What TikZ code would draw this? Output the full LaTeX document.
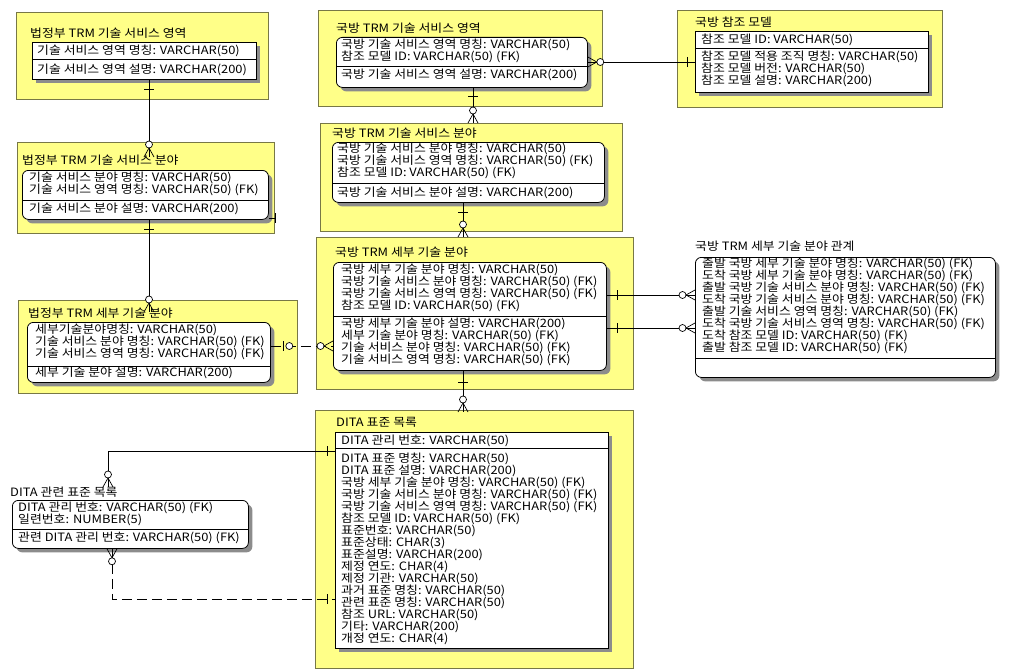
\documentclass[tikz,border=0pt]{standalone}
\usepackage{fontspec}
\setmainfont{Noto Sans CJK KR}[FakeStretch=1.12]
\usetikzlibrary{shadows}
\definecolor{ermyellow}{RGB}{255,255,136}
\definecolor{zoneline}{RGB}{120,120,70}
\tikzstyle{zone} = [draw=zoneline, line width=0.8pt, fill=ermyellow, anchor=north west, inner sep=0pt]
\tikzstyle{entbox} = [draw=black, line width=0.8pt, fill=white, anchor=north west, inner sep=0pt, drop shadow={shadow xshift=4pt, shadow yshift=-4pt, opacity=1, fill=black!45}]
\tikzstyle{depbox} = [entbox, rounded corners=6pt]
\tikzstyle{etitle} = [anchor=west, inner sep=0pt, font=\fontsize{11.5}{12}\selectfont]
\tikzstyle{cols} = [anchor=north west, inner sep=0pt, align=left, font=\fontsize{11.5}{12}\selectfont]
\tikzstyle{divline} = [line width=0.8pt]
\tikzstyle{rel} = [line width=0.7pt]
\tikzstyle{reldash} = [rel, dash pattern=on 10pt off 5pt]
\tikzset{
  bar/.pic={\draw[rel] (0,-5) -- (0,5);},
  many/.pic={\draw[rel] (0,-5) -- (9,0) -- (0,5); \draw[rel, fill=white] (12.5,0) circle (3.5pt);},
  zeroone/.pic={\draw[rel] (13,-5) -- (13,5); \draw[rel, fill=white] (18.5,0) circle (3.5pt);}
}

\begin{document}
\begin{tikzpicture}[x=1pt, y=-1pt]
\useasboundingbox (0,0) rectangle (1024,669);

% yellow subject areas
\node[zone, minimum width=252, minimum height=87] (azone) at (16,12) {};
\node[zone, minimum width=257, minimum height=91] (bzone) at (17,142) {};
\node[zone, minimum width=279, minimum height=93] (czone) at (18,300) {};
\node[zone, minimum width=284, minimum height=96] (dzone) at (318,10) {};
\node[zone, minimum width=265, minimum height=97] (ezone) at (677,10) {};
\node[zone, minimum width=302, minimum height=108] (fzone) at (320,123) {};
\node[zone, minimum width=317, minimum height=152] (gzone) at (316,237) {};
\node[zone, minimum width=318, minimum height=258] (hzone) at (315,410) {};

% entity titles
\node[etitle] (atitle) at (30,33) {법정부 TRM 기술 서비스 영역};
\node[etitle] (btitle) at (22,160) {법정부 TRM 기술 서비스 분야};
\node[etitle] (ctitle) at (28,313) {법정부 TRM 세부 기술 분야};
\node[etitle] (dtitle) at (336,28) {국방 TRM 기술 서비스 영역};
\node[etitle] (etitle) at (695,22) {국방 참조 모델};
\node[etitle] (ftitle) at (332,133) {국방 TRM 기술 서비스 분야};
\node[etitle] (gtitle) at (335,252) {국방 TRM 세부 기술 분야};
\node[etitle] (ititle) at (695,246) {국방 TRM 세부 기술 분야 관계};
\node[etitle] (htitle) at (336,422) {DITA 표준 목록};
\node[etitle] (jtitle) at (10,492) {DITA 관련 표준 목록};

% entity boxes
\node[entbox, minimum width=224, minimum height=37] (abox) at (32,42) {};
\node[depbox, minimum width=246, minimum height=49] (bbox) at (22,170) {};
\node[depbox, minimum width=243, minimum height=60] (cbox) at (27,322) {};
\node[depbox, minimum width=251, minimum height=50] (dbox) at (336,37) {};
\node[entbox, minimum width=233, minimum height=61] (ebox) at (695,31) {};
\node[depbox, minimum width=272, minimum height=60] (fbox) at (332,142) {};
\node[depbox, minimum width=273, minimum height=108] (gbox) at (333,262) {};
\node[depbox, minimum width=300, minimum height=120] (ibox) at (695,257) {};
\node[entbox, minimum width=273, minimum height=216] (hbox) at (335,432) {};
\node[depbox, minimum width=236, minimum height=48] (jbox) at (12,500) {};

% key / non-key dividers
\draw[divline] (abox.west |- 0,59) -- (abox.east |- 0,59);
\draw[divline] (bbox.west |- 0,200) -- (bbox.east |- 0,200);
\draw[divline] (cbox.west |- 0,366) -- (cbox.east |- 0,366);
\draw[divline] (dbox.west |- 0,66) -- (dbox.east |- 0,66);
\draw[divline] (ebox.west |- 0,48) -- (ebox.east |- 0,48);
\draw[divline] (fbox.west |- 0,183) -- (fbox.east |- 0,183);
\draw[divline] (gbox.west |- 0,316) -- (gbox.east |- 0,316);
\draw[divline] (ibox.west |- 0,358) -- (ibox.east |- 0,358);
\draw[divline] (hbox.west |- 0,448) -- (hbox.east |- 0,448);
\draw[divline] (jbox.west |- 0,529) -- (jbox.east |- 0,529);

% attributes
\node[cols] (akeys) at (37,45) {기술 서비스 영역 명칭: VARCHAR(50)};
\node[cols] (anon) at (37,64) {기술 서비스 영역 설명: VARCHAR(200)};
\node[cols] (bkeys) at (29,172) {기술 서비스 분야 명칭: VARCHAR(50)\\기술 서비스 영역 명칭: VARCHAR(50) (FK)};
\node[cols] (bnon) at (29,203) {기술 서비스 분야 설명: VARCHAR(200)};
\node[cols] (ckeys) at (35,324) {세부기술분야명칭: VARCHAR(50)\\기술 서비스 분야 명칭: VARCHAR(50) (FK)\\기술 서비스 영역 명칭: VARCHAR(50) (FK)};
\node[cols] (cnon) at (35,367) {세부 기술 분야 설명: VARCHAR(200)};
\node[cols] (dkeys) at (341,39) {국방 기술 서비스 영역 명칭: VARCHAR(50)\\참조 모델 ID: VARCHAR(50) (FK)};
\node[cols] (dnon) at (341,69) {국방 기술 서비스 영역 설명: VARCHAR(200)};
\node[cols] (ekeys) at (701,34) {참조 모델 ID: VARCHAR(50)};
\node[cols] (enon) at (701,51) {참조 모델 적용 조직 명칭: VARCHAR(50)\\참조 모델 버전: VARCHAR(50)\\참조 모델 설명: VARCHAR(200)};
\node[cols] (fkeys) at (337,143) {국방 기술 서비스 분야 명칭: VARCHAR(50)\\국방 기술 서비스 영역 명칭: VARCHAR(50) (FK)\\참조 모델 ID: VARCHAR(50) (FK)};
\node[cols] (fnon) at (337,187) {국방 기술 서비스 분야 설명: VARCHAR(200)};
\node[cols] (gkeys) at (341,264) {국방 세부 기술 분야 명칭: VARCHAR(50)\\국방 기술 서비스 분야 명칭: VARCHAR(50) (FK)\\국방 기술 서비스 영역 명칭: VARCHAR(50) (FK)\\참조 모델 ID: VARCHAR(50) (FK)};
\node[cols] (gnon) at (341,318) {국방 세부 기술 분야 설명: VARCHAR(200)\\세부 기술 분야 명칭: VARCHAR(50) (FK)\\기술 서비스 분야 명칭: VARCHAR(50) (FK)\\기술 서비스 영역 명칭: VARCHAR(50) (FK)};
\node[cols] (ikeys) at (702,258) {출발 국방 세부 기술 분야 명칭: VARCHAR(50) (FK)\\도착 국방 세부 기술 분야 명칭: VARCHAR(50) (FK)\\출발 국방 기술 서비스 분야 명칭: VARCHAR(50) (FK)\\도착 국방 기술 서비스 분야 명칭: VARCHAR(50) (FK)\\출발 기술 서비스 영역 명칭: VARCHAR(50) (FK)\\도착 국방 기술 서비스 영역 명칭: VARCHAR(50) (FK)\\도착 참조 모델 ID: VARCHAR(50) (FK)\\출발 참조 모델 ID: VARCHAR(50) (FK)};
\node[cols] (hkeys) at (341,435) {DITA 관리 번호: VARCHAR(50)};
\node[cols] (hnon) at (341,453) {DITA 표준 명칭: VARCHAR(50)\\DITA 표준 설명: VARCHAR(200)\\국방 세부 기술 분야 명칭: VARCHAR(50) (FK)\\국방 기술 서비스 분야 명칭: VARCHAR(50) (FK)\\국방 기술 서비스 영역 명칭: VARCHAR(50) (FK)\\참조 모델 ID: VARCHAR(50) (FK)\\표준번호: VARCHAR(50)\\표준상태: CHAR(3)\\표준설명: VARCHAR(200)\\제정 연도: CHAR(4)\\제정 기관: VARCHAR(50)\\과거 표준 명칭: VARCHAR(50)\\관련 표준 명칭: VARCHAR(50)\\참조 URL: VARCHAR(50)\\기타: VARCHAR(200)\\개정 연도: CHAR(4)};
\node[cols] (jkeys) at (18,502) {DITA 관리 번호: VARCHAR(50) (FK)\\일련번호: NUMBER(5)};
\node[cols] (jnon) at (18,532) {관련 DITA 관리 번호: VARCHAR(50) (FK)};

% relationship ends
\coordinate (bIn) at (149,157);
\coordinate (cIn) at (149,312);
\coordinate (fIn) at (473,123);
\coordinate (gIn) at (463,237);
\coordinate (hIn) at (463,412);
\coordinate (jIn) at (108,487);
\coordinate (bStub) at (276,218);

% relationships
\draw[rel] (abox.south -| bIn) -- (bIn);
\pic[rotate=90] at (149,89) {bar};
\pic[rotate=90] at (bIn) {many};
\draw[rel] (bbox.south -| cIn) -- (cIn);
\pic[rotate=90] at (149,229) {bar};
\pic[rotate=90] at (cIn) {many};
\draw[rel] (bbox.east |- bStub) -- (bStub);
\pic at (275,218) {bar};
\draw[reldash] (cbox.east |- 0,346) -- (gbox.west |- 0,346);
\pic at (cbox.east |- 0,346) {zeroone};
\pic[rotate=180] at (gbox.west |- 0,346) {many};
\draw[rel] (dbox.east |- 0,62) -- (ebox.west |- 0,62);
\pic at (dbox.east |- 0,62) {many};
\pic at (687,62) {bar};
\draw[rel] (dbox.south -| fIn) -- (fIn);
\pic[rotate=90] at (473,96) {bar};
\pic[rotate=90] at (fIn) {many};
\draw[rel] (fbox.south -| gIn) -- (gIn);
\pic[rotate=90] at (463,212) {bar};
\pic[rotate=90] at (gIn) {many};
\draw[rel] (gbox.east |- 0,295) -- (ibox.west |- 0,295);
\pic at (617,295) {bar};
\pic[rotate=180] at (ibox.west |- 0,295) {many};
\draw[rel] (gbox.east |- 0,328) -- (ibox.west |- 0,328);
\pic at (617,328) {bar};
\pic[rotate=180] at (ibox.west |- 0,328) {many};
\draw[rel] (gbox.south -| hIn) -- (hIn);
\pic[rotate=90] at (463,382) {bar};
\pic[rotate=90] at (hIn) {many};
\draw[rel] (hbox.west |- 0,451) -| (jIn);
\pic at (327,451) {bar};
\pic[rotate=90] at (jIn) {many};
\draw[reldash] (jbox.south -| 112,0) |- (hbox.west |- 0,599);
\pic[rotate=-90] at (jbox.south -| 112,0) {many};
\pic at (327,599) {bar};
\end{tikzpicture}
\end{document}
